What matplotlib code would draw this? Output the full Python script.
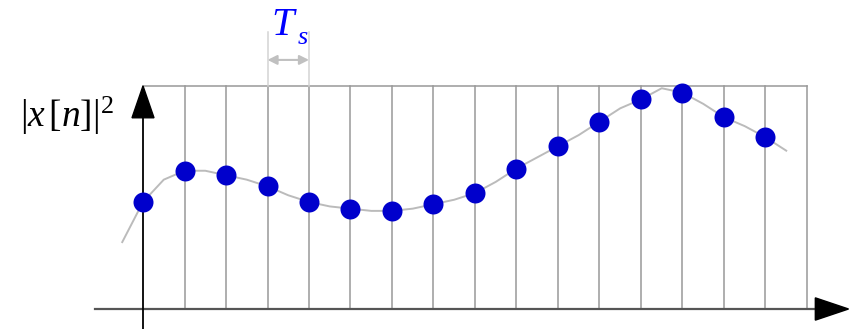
import numpy as np
import matplotlib
matplotlib.use('Agg')
import matplotlib.pyplot as plt

#Sampled values |x[n]|^2 (top grid line = 1.0, time axis = 0.0)
n = list(range(16))
samples = [0.48,0.62,0.60,0.55,0.48,0.45,0.44,0.47,0.52,0.63,0.73,0.84,0.94,0.97,0.86,0.77]

#Underlying continuous signal, read at half-sample steps
t_curve = [k/2 for k in range(-1,32)]
curve = [0.30,0.48,0.58,0.62,0.62,0.60,0.58,0.55,0.51,0.48,0.46,0.45,0.44,0.44,0.45,0.47,0.49,
         0.52,0.57,0.63,0.68,0.73,0.78,0.84,0.90,0.94,0.99,0.97,0.92,0.86,0.82,0.77,0.71]

grid_n = list(range(17))
ts_span = [3,4]

plt.rcParams['mathtext.fontset'] = 'custom'
plt.rcParams['mathtext.rm'] = 'Liberation Serif'
plt.rcParams['mathtext.it'] = 'Liberation Serif:italic'

fig = plt.figure(figsize=(8.55,3.29),dpi=100)
ax = fig.add_axes([0,0,1,1])
ax.set_xlim(-3.446,17.157)
ax.set_ylim(-0.0897,1.3857)
ax.axis('off')

#Sampling grid
for g in grid_n[1:]:
	ax.plot([g,g],[0,1],color='#999999',lw=1.1,zorder=1)
ax.plot([grid_n[0],grid_n[-1]],[1,1],color='#999999',lw=1.1,zorder=1)

#Axes with arrows
ax.plot([-1.15,16.2],[0,0],color='#555555',lw=1.6,zorder=2)
ax.arrow(16.2,0,0.001,0,head_width=0.1,head_length=0.8,width=0,fc='black',ec='black',zorder=3)
ax.plot([0,0],[-0.09,0.86],color='black',lw=1.3,zorder=3)
ax.arrow(0,0.857,0,0.0005,head_width=0.53,head_length=0.143,width=0,fc='black',ec='black',zorder=3)

#Signal and samples
ax.plot(t_curve,curve,color='#bbbbbb',lw=1.4,zorder=4)
ax.plot(n,samples,'o',color='#0000cc',ms=14.4,mec='none',zorder=5)

#Sampling period marker
for g in ts_span:
	ax.plot([g,g],[1,1.242],color='#d3d3d3',lw=1.1,zorder=1)
ax.annotate('',xy=(ts_span[0],1.117),xytext=(ts_span[1],1.117),
	arrowprops=dict(arrowstyle='<|-|>',color='#c0c0c0',lw=1.5,mutation_scale=14,shrinkA=0,shrinkB=0))
ax.text(3.37,1.229,'T',color='#0000ff',fontsize=29,family='Liberation Serif',style='italic',ha='center',va='baseline')
ax.text(3.73,1.188,'s',color='#0000ff',fontsize=19,family='Liberation Serif',style='italic',ha='left',va='baseline')

ax.text(-1.83,0.816,r'$|x\,[n]|^{2}$',color='black',fontsize=27,ha='center',va='baseline')

fig.savefig('out.png',dpi=100)
